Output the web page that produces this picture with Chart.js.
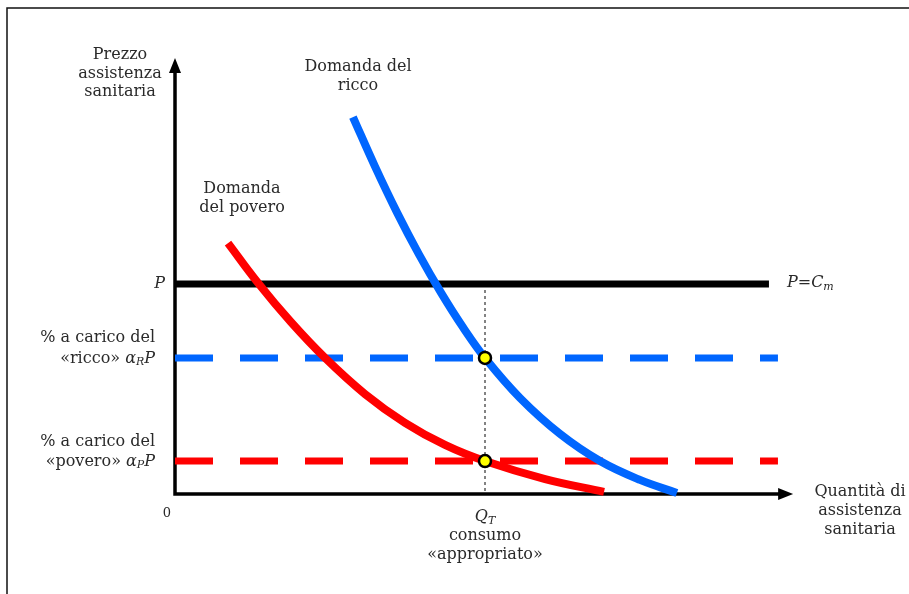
<!DOCTYPE html>
<html>
<head>
<meta charset="utf-8">
<script src="https://cdn.jsdelivr.net/npm/chart.js@4.4.0/dist/chart.umd.min.js"></script>
<style>
  html, body { margin: 0; padding: 0; background: #fff; }
  canvas { display: block; }
</style>
</head>
<body>
<canvas id="grafico" width="909" height="594"></canvas>
<script>
// curve di domanda (quantità, prezzo)
const poveroQ = [1.71, 2.68, 3.74, 4.84, 6.13, 7.42, 8.71, 10.0, 11.94, 13.84];
const poveroP = [11.95, 10.05, 8.19, 6.48, 4.76, 3.39, 2.34, 1.57, 0.71, 0.1];
const riccoQ = [5.74, 6.45, 7.16, 7.87, 8.58, 9.29, 10.0, 11.13, 12.42, 13.71, 15.0, 16.19];
const riccoP = [17.95, 15.6, 13.41, 11.41, 9.59, 7.94, 6.48, 4.57, 2.86, 1.57, 0.67, 0.05];

// livelli di prezzo e quantità
const prezzo = 10;          // P = Cm
const quotaRicco = 6.48;    // alfa_R * P
const quotaPovero = 1.57;   // alfa_P * P
const qT = 10;              // consumo appropriato
const fineP = 19.16;
const fineQuote = 19.45;
const xMax = 20, yMax = 21;

const pts = (xs, ys) => xs.map((x, i) => ({ x, y: ys[i] }));

const SERIF = '"DejaVu Serif", "Liberation Serif", serif';
const F = (size, it) => (it ? 'italic ' : '') + size + 'px ' + SERIF;

// testo con pezzi in corsivo e pedici
function runs(ctx, parts, x, y, align) {
  let w = 0;
  parts.forEach(p => { ctx.font = p.f; w += ctx.measureText(p.t).width; });
  let cx = align === 'right' ? x - w : align === 'center' ? x - w / 2 : x;
  ctx.textAlign = 'left';
  parts.forEach(p => {
    ctx.font = p.f;
    ctx.fillText(p.t, cx, y + (p.dy || 0));
    cx += ctx.measureText(p.t).width;
  });
}

const decorazioni = {
  id: 'decorazioni',
  beforeDatasetsDraw(chart) {
    const { ctx } = chart;
    const sx = chart.scales.x, sy = chart.scales.y;
    const x0 = sx.getPixelForValue(0), y0 = sy.getPixelForValue(0);
    const yTop = sy.getPixelForValue(20.76), xEnd = sx.getPixelForValue(19.94);
    ctx.save();
    // cornice
    ctx.strokeStyle = '#111';
    ctx.lineWidth = 1.5;
    ctx.beginPath();
    ctx.moveTo(7, 594); ctx.lineTo(7, 8); ctx.lineTo(909, 8);
    ctx.stroke();
    // assi
    ctx.strokeStyle = '#000';
    ctx.lineWidth = 3.5;
    ctx.lineJoin = 'miter';
    ctx.beginPath();
    ctx.moveTo(x0, yTop + 10); ctx.lineTo(x0, y0); ctx.lineTo(xEnd - 10, y0);
    ctx.stroke();
    ctx.fillStyle = '#000';
    ctx.beginPath();
    ctx.moveTo(x0, yTop); ctx.lineTo(x0 - 6, yTop + 15); ctx.lineTo(x0 + 6, yTop + 15); ctx.closePath();
    ctx.fill();
    ctx.beginPath();
    ctx.moveTo(xEnd, y0); ctx.lineTo(xEnd - 15, y0 - 6); ctx.lineTo(xEnd - 15, y0 + 6); ctx.closePath();
    ctx.fill();
    ctx.restore();
  },
  afterDraw(chart) {
    const { ctx } = chart;
    const sx = chart.scales.x, sy = chart.scales.y;
    const x0 = sx.getPixelForValue(0), y0 = sy.getPixelForValue(0);
    ctx.save();
    ctx.fillStyle = '#2a2a2a';
    ctx.textBaseline = 'middle';
    const N = F(16), I = F(16, true), S = F(11, true);
    const center = (lines, x, y, lh) => lines.forEach((t, i) => runs(ctx, [{ t, f: N }], x, y + i * lh, 'center'));

    center(['Prezzo', 'assistenza', 'sanitaria'], 120, 55, 18.5);
    center(['Domanda del', 'ricco'], 358, 67, 18.5);
    center(['Domanda', 'del povero'], 242, 189, 19);
    center(['Quantità di', 'assistenza', 'sanitaria'], 860, 492, 19);

    runs(ctx, [{ t: 'P', f: I }], x0 - 10, sy.getPixelForValue(prezzo), 'right');
    runs(ctx, [{ t: '% a carico del', f: N }], 155, sy.getPixelForValue(quotaRicco) - 20, 'right');
    runs(ctx, [{ t: '«ricco» ', f: N }, { t: 'α', f: I }, { t: 'R', f: S, dy: 3 }, { t: 'P', f: I }],
      155, sy.getPixelForValue(quotaRicco) + 1, 'right');
    runs(ctx, [{ t: '% a carico del', f: N }], 155, sy.getPixelForValue(quotaPovero) - 19, 'right');
    runs(ctx, [{ t: '«povero» ', f: N }, { t: 'α', f: I }, { t: 'P', f: S, dy: 3 }, { t: 'P', f: I }],
      155, sy.getPixelForValue(quotaPovero) + 1, 'right');

    runs(ctx, [{ t: 'P', f: I }, { t: '=', f: N }, { t: 'C', f: I }, { t: 'm', f: S, dy: 4 }],
      sx.getPixelForValue(fineP) + 18, sy.getPixelForValue(prezzo) - 1, 'left');

    runs(ctx, [{ t: '0', f: F(13) }], x0 - 8, y0 + 20, 'center');
    runs(ctx, [{ t: 'Q', f: I }, { t: 'T', f: S, dy: 4 }], sx.getPixelForValue(qT), y0 + 23, 'center');
    center(['consumo', '«appropriato»'], sx.getPixelForValue(qT), y0 + 42, 19);
    ctx.restore();
  }
};

new Chart(document.getElementById('grafico'), {
  type: 'line',
  data: {
    datasets: [
      { data: pts([qT, qT], [prezzo, 0]), borderColor: '#333', borderWidth: 1.2, borderDash: [3, 3], pointRadius: 0, order: 6 },
      { data: pts([0, fineP], [prezzo, prezzo]), borderColor: '#000', borderWidth: 7, pointRadius: 0, order: 5 },
      { data: pts([0, fineQuote], [quotaRicco, quotaRicco]), borderColor: '#0066ff', borderWidth: 7, borderDash: [38, 27], pointRadius: 0, order: 4 },
      { data: pts([0, fineQuote], [quotaPovero, quotaPovero]), borderColor: '#ff0000', borderWidth: 7, borderDash: [38, 27], pointRadius: 0, order: 3 },
      { data: pts(poveroQ, poveroP), borderColor: '#ff0000', borderWidth: 8, tension: 0.4, pointRadius: 0, order: 2 },
      { data: pts(riccoQ, riccoP), borderColor: '#0066ff', borderWidth: 8, tension: 0.4, pointRadius: 0, order: 1 },
      { data: pts([qT, qT], [quotaRicco, quotaPovero]), showLine: false, pointRadius: 6, pointBackgroundColor: '#ffff00',
        pointBorderColor: '#000', pointBorderWidth: 2.5, order: 0 }
    ]
  },
  options: {
    responsive: false,
    animation: false,
    clip: false,
    layout: { padding: { left: 175, right: 909 - 175 - xMax * 31, top: 594 - 100 - yMax * 21, bottom: 100 } },
    plugins: { legend: { display: false }, tooltip: { enabled: false } },
    scales: {
      x: { type: 'linear', min: 0, max: xMax, display: false },
      y: { type: 'linear', min: 0, max: yMax, display: false }
    }
  },
  plugins: [decorazioni]
});
</script>
</body>
</html>
